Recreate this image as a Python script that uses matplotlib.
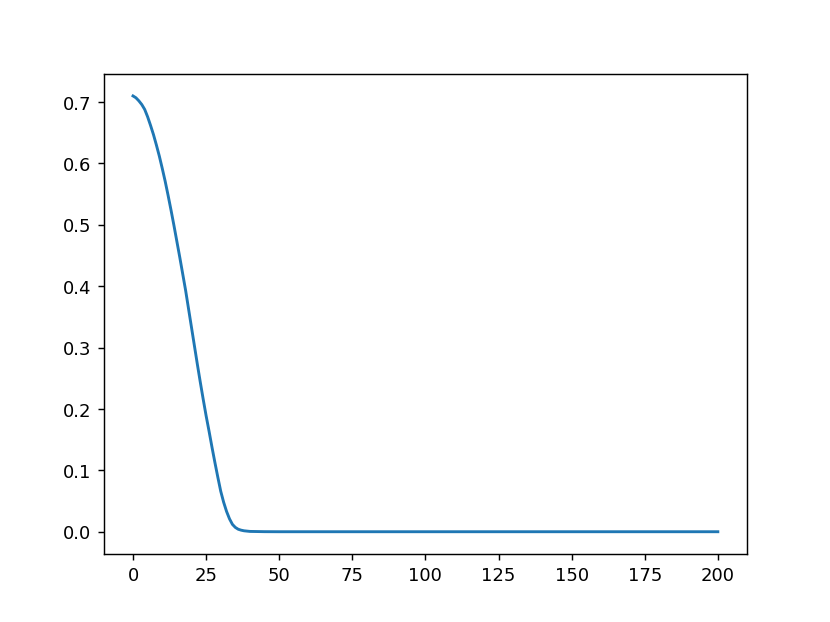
import matplotlib
matplotlib.use("Agg")
import matplotlib.pyplot as plt

x_vals = list(range(0, 41)) + [45, 50, 75, 100, 125, 150, 175, 200]
y_vals = [0.710, 0.707, 0.702, 0.696, 0.688, 0.676, 0.662, 0.647, 0.630, 0.612,
          0.592, 0.571, 0.548, 0.524, 0.499, 0.473, 0.447, 0.420, 0.393, 0.363,
          0.333, 0.303, 0.273, 0.244, 0.216, 0.189, 0.164, 0.138, 0.113, 0.089,
          0.066, 0.048, 0.033, 0.021, 0.012, 0.007, 0.004, 0.0025, 0.0015, 0.001,
          0.0005, 0.0001, 0.0, 0.0, 0.0, 0.0, 0.0, 0.0, 0.0]

fig, ax = plt.subplots(figsize=(6.4, 4.8), dpi=129.7)
ax.plot(x_vals, y_vals, color="#1f77b4", linewidth=1.6)
fig.savefig("out.png", dpi=129.7)
